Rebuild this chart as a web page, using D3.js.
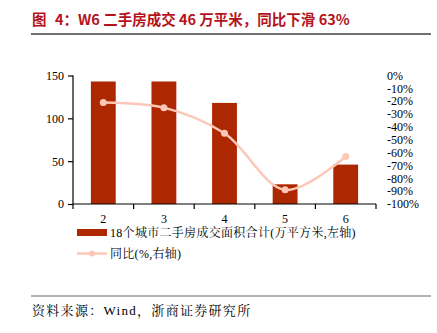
<!DOCTYPE html>
<html>
<head>
<meta charset="utf-8">
<script src="https://cdn.jsdelivr.net/npm/d3@7"></script>
<style>
  html, body { margin: 0; padding: 0; background: #fff; }
  svg { display: block; }
</style>
</head>
<body>
<svg id="chart" width="437" height="333"></svg>
<script>
// Weekly data: second-hand housing transaction area across 18 cities
const weeks = ["2", "3", "4", "5", "6"];
const areaValues = [143, 143, 118, 23, 46];      // 万平方米 (left axis)
const yoyValues = [-21, -25, -45, -89, -63];      // % (right axis)
const leftTicks = [0, 50, 100, 150];
const rightTicks = [0, -10, -20, -30, -40, -50, -60, -70, -80, -90, -100];

const titleLabel = "图";
const titleText = "4：W6 二手房成交 46 万平米，同比下滑 63%";
const legendBar = "18个城市二手房成交面积合计(万平方米,左轴)";
const legendLine = "同比(%,右轴)";
const sourceText = "资料来源：Wind，浙商证券研究所";

const serif = "'Liberation Serif', 'Noto Serif CJK SC', 'Noto Sans CJK SC', serif";
const svg = d3.select("#chart");

const plot = { left: 73, right: 376, top: 75.5, bottom: 204 };

const x = d3.scaleBand().domain(weeks).range([plot.left, plot.right]).paddingInner(0).paddingOuter(0);
const yL = d3.scaleLinear().domain([0, 150]).range([plot.bottom, plot.top]);
const yR = d3.scaleLinear().domain([-100, 0]).range([plot.bottom, plot.top]);

// Title
const title = svg.append("text")
  .attr("y", 25)
  .attr("fill", "#b5121b")
  .attr("font-family", "'Noto Sans CJK SC', sans-serif")
  .attr("font-weight", "bold")
  .attr("font-size", 14.5);
title.append("tspan").attr("x", 32).text(titleLabel);
title.append("tspan").attr("x", 55).text(titleText);

svg.append("line")
  .attr("x1", 31).attr("x2", 431).attr("y1", 34).attr("y2", 34)
  .attr("stroke", "#707070").attr("stroke-width", 2);

// Bars
svg.append("g").selectAll("rect")
  .data(areaValues)
  .join("rect")
  .attr("x", (d, i) => x(weeks[i]) + x.bandwidth() * 0.295)
  .attr("width", x.bandwidth() * 0.41)
  .attr("y", d => yL(d))
  .attr("height", d => yL(0) - yL(d))
  .attr("fill", "#ad2700");

// Left axis
const leftAxis = svg.append("g")
  .attr("transform", `translate(${plot.left},0)`)
  .call(d3.axisLeft(yL).tickValues(leftTicks).tickSize(5).tickPadding(4).tickFormat(d3.format("d")));
leftAxis.selectAll("text").attr("font-family", serif).attr("font-size", 12).attr("fill", "#000");
leftAxis.selectAll("line, path").attr("stroke", "#000").attr("stroke-width", 1.2);
leftAxis.select(".domain").attr("d", `M0,${plot.top}V${plot.bottom}`);

// Bottom axis with ticks at band edges
const bottom = svg.append("g").attr("transform", `translate(0,${plot.bottom})`);
bottom.append("line")
  .attr("x1", plot.left).attr("x2", plot.right)
  .attr("stroke", "#000").attr("stroke-width", 1.2);
const edges = weeks.map(w => x(w)).concat([plot.right]);
bottom.selectAll("line.tick")
  .data(edges)
  .join("line")
  .attr("class", "tick")
  .attr("x1", d => d).attr("x2", d => d)
  .attr("y1", 0).attr("y2", 5)
  .attr("stroke", "#000").attr("stroke-width", 1.2);
bottom.selectAll("text")
  .data(weeks)
  .join("text")
  .attr("x", d => x(d) + x.bandwidth() / 2)
  .attr("y", 19)
  .attr("text-anchor", "middle")
  .attr("font-family", serif)
  .attr("font-size", 12)
  .text(d => d);

// Right axis labels (no axis line)
svg.append("g").selectAll("text")
  .data(rightTicks)
  .join("text")
  .attr("x", 387)
  .attr("y", d => yR(d))
  .attr("dy", "0.35em")
  .attr("font-family", serif)
  .attr("font-size", 12)
  .text(d => d + "%");

// YoY line
const lineGen = d3.line()
  .x((d, i) => x(weeks[i]) + x.bandwidth() / 2)
  .y(d => yR(d))
  .curve(d3.curveCatmullRom.alpha(0.5));

svg.append("path")
  .datum(yoyValues)
  .attr("d", lineGen)
  .attr("fill", "none")
  .attr("stroke", "#fcc7b6")
  .attr("stroke-width", 2.5);

svg.append("g").selectAll("circle")
  .data(yoyValues)
  .join("circle")
  .attr("cx", (d, i) => x(weeks[i]) + x.bandwidth() / 2)
  .attr("cy", d => yR(d))
  .attr("r", 3.5)
  .attr("fill", "#fcc7b6");

// Legend
const legend = svg.append("g");
legend.append("rect")
  .attr("x", 77).attr("y", 229).attr("width", 30).attr("height", 7)
  .attr("fill", "#ad2700");
legend.append("text")
  .attr("x", 110).attr("y", 233).attr("dy", "0.35em")
  .attr("font-family", serif).attr("font-size", 12)
  .attr("letter-spacing", 0.3)
  .text(legendBar);
legend.append("line")
  .attr("x1", 77).attr("x2", 107).attr("y1", 253.5).attr("y2", 253.5)
  .attr("stroke", "#fcc7b6").attr("stroke-width", 2.5);
legend.append("circle")
  .attr("cx", 92).attr("cy", 253.5).attr("r", 3)
  .attr("fill", "#fcc7b6");
legend.append("text")
  .attr("x", 110).attr("y", 253.5).attr("dy", "0.35em")
  .attr("font-family", serif).attr("font-size", 12)
  .attr("letter-spacing", 0.3)
  .text(legendLine);

// Footer
svg.append("line")
  .attr("x1", 31).attr("x2", 431).attr("y1", 296).attr("y2", 296)
  .attr("stroke", "#666").attr("stroke-width", 1);
svg.append("text")
  .attr("x", 32).attr("y", 315)
  .attr("font-family", serif).attr("font-size", 13)
  .attr("letter-spacing", 1.3)
  .text(sourceText);
</script>
</body>
</html>
